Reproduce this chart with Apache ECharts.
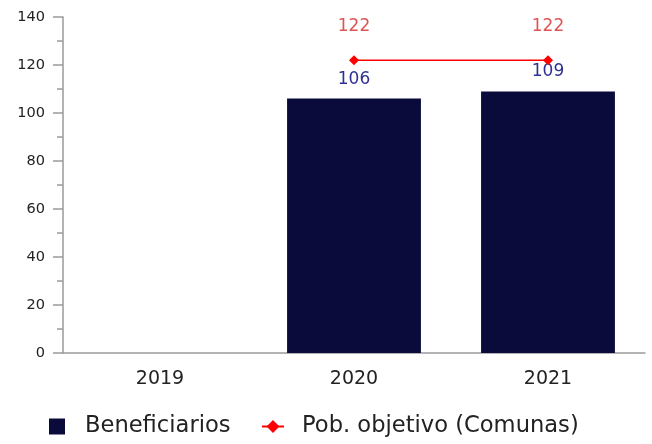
<!DOCTYPE html>
<html><head><meta charset="utf-8">
<script src="https://cdn.jsdelivr.net/npm/echarts@6/dist/echarts.min.js"></script>
<style>html,body{margin:0;padding:0;background:#fff}#c{width:652px;height:444px}</style>
</head><body><div id="c"></div>
<script>
const categories = ['2019', '2020', '2021'];
const beneficiarios = [null, 106, 109];
const pobObjetivo = [null, 122, 122];
const yTicks = {min: 0, max: 140, interval: 20};

const chart = echarts.init(document.getElementById('c'), null, {renderer: 'canvas'});
const font = 'DejaVu Sans';
chart.setOption({
  animation: false,
  textStyle: {fontFamily: font},
  grid: {left: 63, right: 7, top: 17, bottom: 91, containLabel: false},
  xAxis: {
    type: 'category', data: categories,
    axisLine: {lineStyle: {color: '#9a9a9a', width: 1.5}},
    axisTick: {show: false},
    axisLabel: {color: '#222', fontSize: 19, margin: 17, fontFamily: font}
  },
  yAxis: {
    type: 'value', min: yTicks.min, max: yTicks.max, interval: yTicks.interval,
    axisLine: {show: true, lineStyle: {color: '#9a9a9a', width: 1.5}},
    axisTick: {show: true, length: 10, lineStyle: {color: '#9a9a9a', width: 1.5}},
    minorTick: {show: true, splitNumber: 2, length: 6, lineStyle: {color: '#9a9a9a', width: 1.5}},
    splitLine: {show: false},
    axisLabel: {color: '#222', fontSize: 14.5, margin: 18, fontFamily: font}
  },
  legend: [
    {
      top: 415, left: 49, padding: 0, itemWidth: 16, itemHeight: 16,
      textStyle: {fontSize: 22.6, color: '#222', fontFamily: font, padding: [0, 0, 0, 15]},
      data: [{name: 'Beneficiarios', icon: 'rect'}]
    },
    {
      top: 415, left: 261, padding: 0, itemWidth: 22, itemHeight: 16,
      textStyle: {fontSize: 22.6, color: '#222', fontFamily: font, padding: [0, 0, 0, 13]},
      data: [{name: 'Pob. objetivo (Comunas)'}]
    }
  ],
  series: [
    {
      name: 'Beneficiarios', type: 'bar', data: beneficiarios, barWidth: '69%',
      itemStyle: {color: '#0b0b3b'},
      label: {show: true, position: 'top', distance: 11, color: '#2e3192', fontSize: 17, fontFamily: font}
    },
    {
      name: 'Pob. objetivo (Comunas)', type: 'line', data: pobObjetivo,
      symbol: 'diamond', symbolSize: 10,
      lineStyle: {color: '#ff0000', width: 1.5},
      itemStyle: {color: '#ff0000'},
      label: {show: true, position: 'top', distance: 20, color: '#dd5555', fontSize: 17, fontFamily: font}
    }
  ]
});
</script></body></html>
